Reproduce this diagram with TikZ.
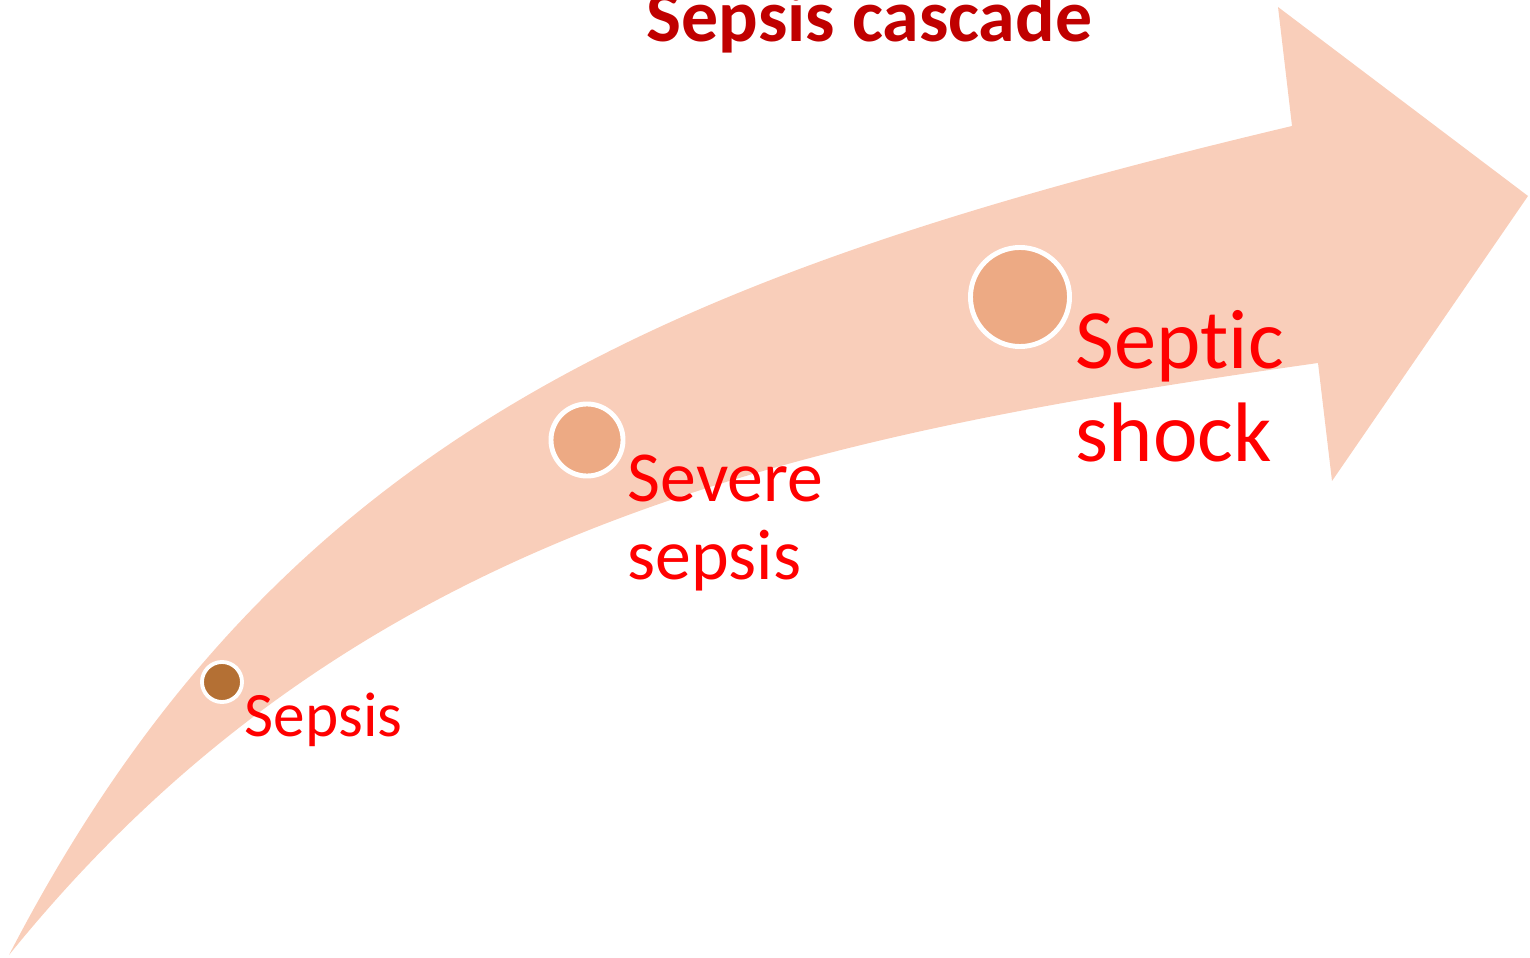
\documentclass[tikz,border=0pt]{standalone}
\usepackage{fontspec}
\setmainfont{Carlito}[Ligatures=NoCommon]
\definecolor{freccia}{HTML}{F9CEBA}
\definecolor{pesca}{HTML}{EDAA84}
\definecolor{marrone}{HTML}{B47034}
\definecolor{rossoscuro}{HTML}{C00000}
\tikzset{
    stadio/.style={circle, draw=white, fill=pesca, inner sep=0pt},
    etichetta/.style={text=red, anchor=base west, inner sep=0pt, align=left}
}
\begin{document}
\begin{tikzpicture}[x=0.01cm, y=-0.01cm]
    \useasboundingbox (0,0) rectangle (1530,958);

    % Freccia curva
    \fill[freccia] (9,955) .. controls (276,439) and (661,276) .. (1292,126)
        -- (1278,7) -- (1528,196) -- (1332,481) -- (1318,363)
        .. controls (803,436) and (356,526) .. (9,955) -- cycle;

    % Titolo
    \node[text=rossoscuro, font=\bfseries\fontsize{21pt}{25pt}\selectfont, anchor=base, inner sep=0pt] (titolo) at (869.5,42) {Sepsis cascade};

    % Stadi
    \node[stadio, fill=marrone, minimum size=0.4cm, line width=1.1pt] (sepsi) at (222,682) {};
    \node[stadio, minimum size=0.72cm, line width=1.4pt] (grave) at (587,440) {};
    \node[stadio, minimum size=0.99cm, line width=1.4pt] (shock) at (1020,297) {};

    % Etichette (base = ultima riga)
    \node[etichetta, font=\fontsize{18pt}{22pt}\selectfont] (lsepsi) at (244,736) {Sepsis};
    \node[etichetta, font=\fontsize{20.4pt}{22.2pt}\selectfont] (lgrave) at (627,580) {Severe\\sepsis};
    \node[etichetta, font=\fontsize{24pt}{26.7pt}\selectfont] (lshock) at (1075,462) {Septic\\shock};
\end{tikzpicture}
\end{document}
